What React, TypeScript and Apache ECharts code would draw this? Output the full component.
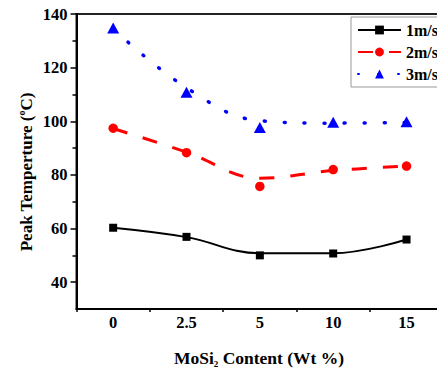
import React, { useEffect, useRef } from 'react';
import * as echarts from 'echarts';

const categories = ['0', '2.5', '5', '10', '15'];
const speeds = ['1m/s', '2m/s', '3m/s'];
const measured1 = [60.3, 56.9, 50.0, 50.7, 55.9];
const measured2 = [97.4, 88.3, 75.7, 82.0, 83.3];
const measured3 = [134.8, 110.8, 97.7, 99.6, 99.8];
const fit1 = [60.3, 56.8, 50.8, 50.8, 55.9];
const fit2 = [97.3, 88.5, 78.8, 81.6, 83.3];
const fit3 = [134.5, 112.5, 100.2, 99.3, 99.6];
const yMajorTicks = [40, 60, 80, 100, 120, 140];
const yMinorTicks = [50, 70, 90, 110, 130];

const FONT = 'Liberation Serif';

export default function App() {
  const ref = useRef<HTMLDivElement>(null);
  useEffect(() => {
    document.body.style.margin = '0';
    document.body.style.overflow = 'hidden';
    document.documentElement.style.overflow = 'hidden';
    const chart = echarts.init(ref.current!, null, { renderer: 'svg' });
    const colors = ['#000000', '#ff0000', '#0000ff'];
    const symbols = ['rect', 'circle', 'triangle'];
    const symbolSizes: any[] = [8, 9.5, [12, 11]];
    const fits = [fit1, fit2, fit3];
    const measured = [measured1, measured2, measured3];
    const lineStyles: any[] = [
      { color: colors[0], width: 2, type: 'solid' },
      { color: colors[1], width: 3, type: [15, 16] },
      { color: colors[2], width: 3.5, type: [1, 19], cap: 'round' },
    ];
    const series: any[] = [];
    for (let i = 0; i < 3; i++) {
      series.push({
        name: speeds[i],
        type: 'line',
        data: fits[i],
        smooth: 0.4,
        showSymbol: false,
        symbol: symbols[i],
        symbolSize: symbolSizes[i],
        itemStyle: { color: colors[i] },
        lineStyle: lineStyles[i],
        z: 2,
      });
      series.push({
        name: speeds[i] + ' data',
        type: 'scatter',
        data: measured[i],
        symbol: symbols[i],
        symbolSize: symbolSizes[i],
        itemStyle: { color: colors[i], opacity: 1 },
        z: 3,
      });
    }
    const labelStyle = { fontFamily: FONT, fontWeight: 'bold', fontSize: 16.5, color: '#000' };
    chart.setOption({
      animation: false,
      grid: {
        left: 76.5,
        top: 14,
        width: 366.7,
        height: 295,
        show: true,
        borderColor: '#222',
        borderWidth: 2,
        backgroundColor: 'transparent',
      },
      legend: {
        data: speeds,
        orient: 'vertical',
        left: 351,
        top: 17,
        padding: [5, 40, 5, 6],
        itemWidth: 43,
        itemHeight: 11,
        itemGap: 6,
        borderColor: '#999',
        borderWidth: 1,
        backgroundColor: '#fff',
        textStyle: { ...labelStyle, fontSize: 16 },
      },
      xAxis: [
        {
          type: 'category',
          data: categories,
          boundaryGap: true,
          axisLine: { lineStyle: { color: '#000', width: 2 } },
          axisTick: { alignWithLabel: true, length: 5, lineStyle: { color: '#000', width: 1.5 } },
          axisLabel: { ...labelStyle, margin: 5 },
          splitLine: { show: false },
        },
        {
          type: 'value',
          min: 0,
          max: 5,
          interval: 1,
          position: 'bottom',
          axisLine: { show: false },
          axisTick: { show: true, length: 3, lineStyle: { color: '#000', width: 1.5 } },
          axisLabel: { show: false },
          splitLine: { show: false },
        },
      ],
      yAxis: [
        {
          type: 'value',
          min: 30,
          max: 140,
          interval: 10,
          axisLine: { show: true, lineStyle: { color: '#000', width: 2 } },
          axisTick: { show: true, length: 6, customValues: yMajorTicks, lineStyle: { color: '#000', width: 1.5 } },
          axisLabel: { ...labelStyle, margin: 9, customValues: yMajorTicks },
          splitLine: { show: false },
        },
        {
          type: 'value',
          min: 30,
          max: 140,
          interval: 10,
          position: 'left',
          axisLine: { show: false },
          axisTick: { show: true, length: 4, customValues: yMinorTicks, lineStyle: { color: '#000', width: 1.5 } },
          axisLabel: { show: false },
          splitLine: { show: false },
        },
      ],
      graphic: [
        {
          type: 'text',
          x: 26,
          y: 172,
          rotation: Math.PI / 2,
          style: {
            text: '{m|Peak Temperture (}{sup|o}{m|C)}',
            fill: '#000',
            align: 'center',
            verticalAlign: 'middle',
            rich: {
              m: { fontFamily: FONT, fontWeight: 'bold', fontSize: 17, lineHeight: 20, verticalAlign: 'middle' },
              sup: { fontFamily: FONT, fontWeight: 'bold', fontSize: 10, lineHeight: 20, verticalAlign: 'top' },
            },
          },
        },
        {
          type: 'text',
          x: 259,
          y: 358,
          style: {
            text: '{m|MoSi}{sub|2}{m| Content (Wt %)}',
            fill: '#000',
            align: 'center',
            verticalAlign: 'middle',
            rich: {
              m: { fontFamily: FONT, fontWeight: 'bold', fontSize: 17.5, lineHeight: 20, verticalAlign: 'middle' },
              sub: { fontFamily: FONT, fontWeight: 'bold', fontSize: 9, lineHeight: 20, verticalAlign: 'bottom' },
            },
          },
        },
      ],
      series,
    });
    return () => chart.dispose();
  }, []);
  return <div ref={ref} style={{ width: 460, height: 369 }} />;
}
